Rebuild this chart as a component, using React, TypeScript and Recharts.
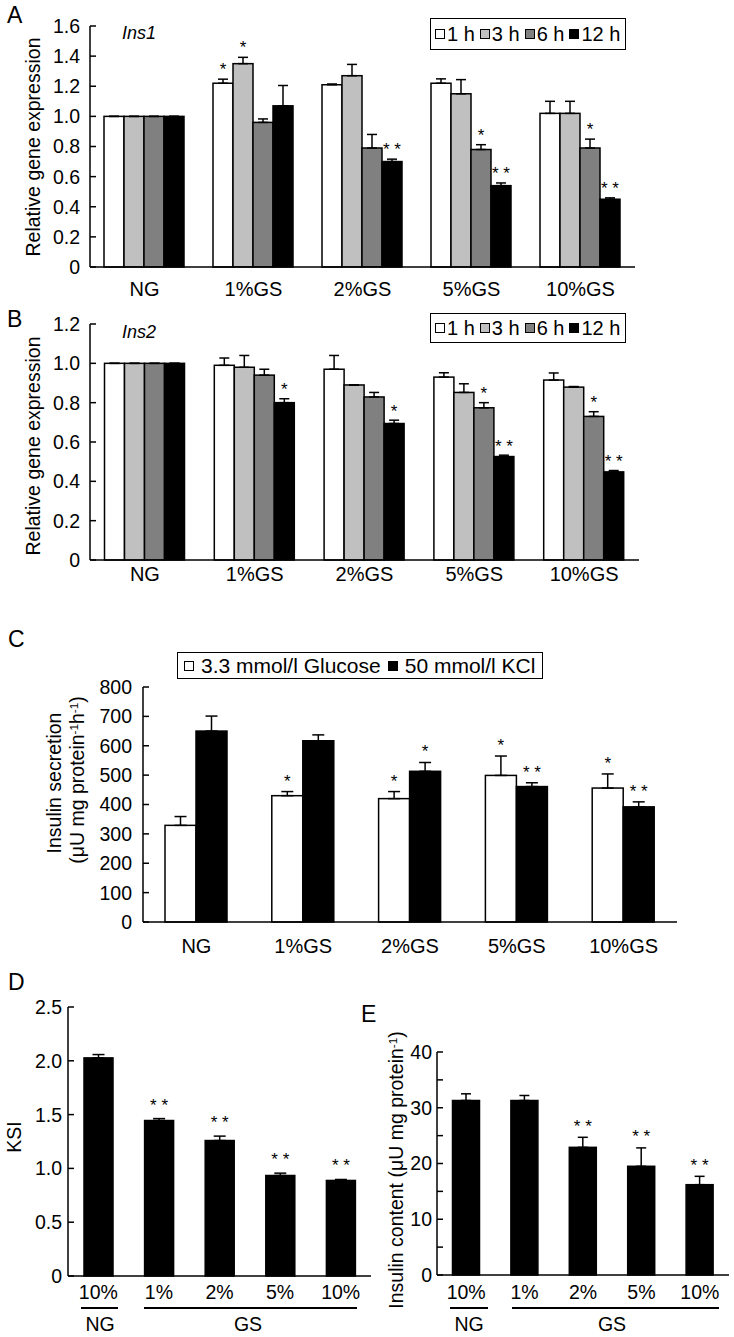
import React from 'react';
import { BarChart, Bar, XAxis, YAxis, ErrorBar, Legend } from 'recharts';

const FONT = '"Liberation Sans", Arial, Helvetica, sans-serif';

// categories / tick labels
const gsGroups = ['NG', '1%GS', '2%GS', '5%GS', '10%GS'];
const doseLabels = ['10%', '1%', '2%', '5%', '10%'];
const hourNames = ['1 h', '3 h', '6 h', '12 h'];
const hourFills = ['#ffffff', '#c0c0c0', '#808080', '#000000'];
const stimNames = ['3.3 mmol/l Glucose', '50 mmol/l KCl'];

// A: Ins1 relative expression
const ins1H1 = [1.0, 1.22, 1.21, 1.22, 1.02];
const ins1H3 = [1.0, 1.35, 1.27, 1.15, 1.02];
const ins1H6 = [1.0, 0.96, 0.79, 0.78, 0.79];
const ins1H12 = [1.0, 1.07, 0.7, 0.54, 0.45];
const ins1H1Err = [0, 0.027, 0.005, 0.029, 0.08];
const ins1H3Err = [0, 0.042, 0.075, 0.094, 0.08];
const ins1H6Err = [0, 0.023, 0.09, 0.032, 0.059];
const ins1H12Err = [0, 0.135, 0.016, 0.018, 0.009];
const ins1H1Sig = ['', '*', '', '', ''];
const ins1H3Sig = ['', '*', '', '', ''];
const ins1H6Sig = ['', '', '', '*', '*'];
const ins1H12Sig = ['', '', '**', '**', '**'];
const ticksA = [0, 0.2, 0.4, 0.6, 0.8, 1.0, 1.2, 1.4, 1.6];

// B: Ins2 relative expression
const ins2H1 = [1.0, 0.99, 0.97, 0.93, 0.915];
const ins2H3 = [1.0, 0.98, 0.89, 0.852, 0.879];
const ins2H6 = [1.0, 0.94, 0.829, 0.774, 0.73];
const ins2H12 = [1.0, 0.8, 0.694, 0.526, 0.448];
const ins2H1Err = [0, 0.037, 0.07, 0.022, 0.036];
const ins2H3Err = [0, 0.06, 0, 0.044, 0.003];
const ins2H6Err = [0, 0.03, 0.023, 0.026, 0.024];
const ins2H12Err = [0, 0.02, 0.017, 0.007, 0.007];
const ins2H1Sig = ['', '', '', '', ''];
const ins2H3Sig = ['', '', '', '', ''];
const ins2H6Sig = ['', '', '', '*', '*'];
const ins2H12Sig = ['', '*', '*', '**', '**'];
const ticksB = [0, 0.2, 0.4, 0.6, 0.8, 1.0, 1.2];

// C: insulin secretion
const glucose = [329, 430, 420, 499, 456];
const glucoseErr = [30, 14, 24, 66, 48];
const glucoseSig = ['', '*', '*', '*', '*'];
const kcl = [650, 617, 513, 461, 392];
const kclErr = [51, 20, 30, 13, 17];
const kclSig = ['', '', '*', '**', '**'];
const ticksC = [0, 100, 200, 300, 400, 500, 600, 700, 800];

// D: KSI
const ksi = [2.027, 1.445, 1.259, 0.934, 0.888];
const ksiErr = [0.031, 0.018, 0.041, 0.022, 0.009];
const ksiSig = ['', '**', '**', '**', '**'];
const ticksD = [0, 0.5, 1.0, 1.5, 2.0, 2.5];

// E: insulin content
const content = [31.3, 31.3, 22.9, 19.5, 16.2];
const contentErr = [1.2, 0.9, 1.8, 3.3, 1.5];
const contentSig = ['', '', '**', '**', '**'];
const ticksE = [0, 5, 10, 15, 20, 25, 30, 35, 40];

type Series = { name: string; fill: string; values: number[]; errors: number[]; sig: string[] };

const toRows = (cats: string[], series: Series[]) =>
  cats.map((c, i) => {
    const row: Record<string, any> = { cat: c };
    series.forEach((s, k) => {
      row['v' + k] = s.values[i];
      row['e' + k] = [0, s.errors[i]];
      row['s' + k] = s.sig[i];
    });
    return row;
  });

// bar rect + significance mark above the error bar
const makeShape = (k: number, fill: string, lift: number) => (p: any) => {
  const { x, y, width, height, payload } = p;
  const val = payload['v' + k];
  const sig = payload['s' + k];
  const errTop = y - payload['e' + k][1] * (val ? height / val : 0);
  return (
    <g>
      <rect x={x} y={y} width={width} height={height} fill={fill} stroke="#000" strokeWidth={1.5} />
      {sig ? (
        <text x={x + width / 2} y={errTop - lift} textAnchor="middle" fontSize={17} fontFamily={FONT} fill="#000">
          {sig === '**' ? '* *' : sig}
        </text>
      ) : null}
    </g>
  );
};

const legendBox = (order: string[], h: number, fs: number, gap: number, sqGap: number, pad: number) => (props: any) => {
  const items = order.map((n) => (props.payload || []).find((e: any) => e.value === n)).filter(Boolean);
  return (
    <div
      style={{
        display: 'inline-flex',
        alignItems: 'center',
        height: h,
        boxSizing: 'border-box',
        border: '1.5px solid #000',
        padding: `0 ${pad}px 0 ${pad - 1}px`,
        fontFamily: FONT,
        fontSize: fs,
        whiteSpace: 'nowrap',
        background: '#fff',
        color: '#000',
      }}
    >
      {items.map((e: any, i: number) => (
        <span key={i} style={{ display: 'inline-flex', alignItems: 'center', marginLeft: i ? gap : 0 }}>
          <span
            style={{
              display: 'inline-block',
              width: 8,
              height: 8,
              border: '1.2px solid #000',
              background: e.color,
              marginRight: sqGap,
            }}
          />
          {e.value}
        </span>
      ))}
    </div>
  );
};

type PanelProps = {
  left: number;
  top: number;
  width: number;
  height: number;
  mTop: number;
  mRight: number;
  yWidth: number;
  xHeight: number;
  domain: [number, number];
  ticks: number[];
  fmt: (v: number) => string;
  yMargin: number;
  xMargin: number;
  xFont: number;
  yFont: number;
  cats: string[];
  series: Series[];
  catGap: number;
  errW: number;
  lift: number;
  legend?: { left: number; top: number; h: number; fs: number; gap: number; sqGap: number; pad: number };
};

const Panel = (p: PanelProps) => {
  const rows = toRows(p.cats, p.series);
  const edges = p.cats.map((_, i) => i + 1);
  const ax = { stroke: '#000', strokeWidth: 1.5 };
  const order = p.series.map((s) => s.name);
  return (
    <div style={{ position: 'absolute', left: p.left, top: p.top }}>
      <BarChart
        width={p.width}
        height={p.height}
        data={rows}
        margin={{ top: p.mTop, right: p.mRight, left: 0, bottom: 0 }}
        barGap={0}
        barCategoryGap={p.catGap}
      >
        <XAxis
          dataKey="cat"
          height={p.xHeight}
          axisLine={ax}
          tickLine={false}
          tickSize={0}
          tickMargin={p.xMargin}
          interval={0}
          tick={{ fill: '#000', fontSize: p.xFont, fontFamily: FONT }}
        />
        <XAxis
          xAxisId="edge"
          type="number"
          domain={[0, p.cats.length]}
          ticks={edges}
          mirror
          height={0}
          axisLine={false}
          tick={false}
          tickSize={5}
          tickLine={ax}
        />
        <YAxis
          width={p.yWidth}
          domain={p.domain}
          ticks={p.ticks}
          interval={0}
          allowDecimals
          axisLine={ax}
          tickLine={ax}
          tickSize={-6}
          tickMargin={p.yMargin}
          tickFormatter={p.fmt}
          tick={{ fill: '#000', fontSize: p.yFont, fontFamily: FONT }}
        />
        {p.legend ? (
          <Legend
            layout="horizontal"
            verticalAlign="middle"
            align="center"
            content={legendBox(order, p.legend.h, p.legend.fs, p.legend.gap, p.legend.sqGap, p.legend.pad)}
            wrapperStyle={{ left: p.legend.left, top: p.legend.top, width: 'auto', height: 'auto' }}
          />
        ) : null}
        {p.series.map((s, k) => (
          <Bar
            key={k}
            dataKey={'v' + k}
            name={s.name}
            fill={s.fill}
            stroke="#000"
            isAnimationActive={false}
            shape={makeShape(k, s.fill, p.lift)}
          >
            <ErrorBar dataKey={'e' + k} width={p.errW} stroke="#000" strokeWidth={1.5} isAnimationActive={false} />
          </Bar>
        ))}
      </BarChart>
    </div>
  );
};

const Txt = ({ x, base, size, italic, center, children }: any) => (
  <div
    style={{
      position: 'absolute',
      left: x,
      top: base - 0.8465 * size,
      fontSize: size,
      lineHeight: `${size}px`,
      fontFamily: FONT,
      fontStyle: italic ? 'italic' : 'normal',
      whiteSpace: 'nowrap',
      transform: center ? 'translateX(-50%)' : undefined,
      color: '#000',
    }}
  >
    {children}
  </div>
);

const VLabel = ({ cx, cy, size, children }: any) => (
  <div
    style={{
      position: 'absolute',
      left: cx,
      top: cy,
      transform: 'translate(-50%, -50%) rotate(-90deg)',
      fontSize: size,
      lineHeight: `${size}px`,
      fontFamily: FONT,
      whiteSpace: 'nowrap',
      color: '#000',
    }}
  >
    {children}
  </div>
);

const Rule = ({ x1, x2, y }: any) => (
  <div style={{ position: 'absolute', left: x1, top: y - 0.75, width: x2 - x1, height: 1.5, background: '#000' }} />
);

const sup = (t: string) => <sup style={{ fontSize: '0.6em', lineHeight: 0, verticalAlign: '0.55em' }}>{t}</sup>;

const dec1 = (v: number) => (v === 0 ? '0' : v.toFixed(1));

const hourSeries = (vals: number[][], errs: number[][], sigs: string[][]): Series[] =>
  hourNames.map((n, k) => ({ name: n, fill: hourFills[k], values: vals[k], errors: errs[k], sig: sigs[k] }));

export default function App() {
  const seriesA = hourSeries(
    [ins1H1, ins1H3, ins1H6, ins1H12],
    [ins1H1Err, ins1H3Err, ins1H6Err, ins1H12Err],
    [ins1H1Sig, ins1H3Sig, ins1H6Sig, ins1H12Sig]
  );
  const seriesB = hourSeries(
    [ins2H1, ins2H3, ins2H6, ins2H12],
    [ins2H1Err, ins2H3Err, ins2H6Err, ins2H12Err],
    [ins2H1Sig, ins2H3Sig, ins2H6Sig, ins2H12Sig]
  );
  const seriesC: Series[] = [
    { name: stimNames[0], fill: '#ffffff', values: glucose, errors: glucoseErr, sig: glucoseSig },
    { name: stimNames[1], fill: '#000000', values: kcl, errors: kclErr, sig: kclSig },
  ];
  const seriesD: Series[] = [{ name: 'KSI', fill: '#000000', values: ksi, errors: ksiErr, sig: ksiSig }];
  const seriesE: Series[] = [{ name: 'Insulin content', fill: '#000000', values: content, errors: contentErr, sig: contentSig }];

  return (
    <div style={{ position: 'absolute', left: 0, top: 0, width: 734, height: 1337, background: '#fff', overflow: 'hidden' }}>
      <Panel
        left={0} top={0} width={660} height={305} mTop={26} mRight={25} yWidth={90} xHeight={38}
        domain={[0, 1.6]} ticks={ticksA} fmt={dec1} yMargin={16} xMargin={15} xFont={20} yFont={19.5}
        cats={gsGroups} series={seriesA} catGap={14} errW={5} lift={4}
        legend={{ left: 430, top: 18, h: 32, fs: 20, gap: 5, sqGap: 2, pad: 5 }}
      />
      <Panel
        left={0} top={300} width={664} height={300} mTop={24} mRight={25} yWidth={90} xHeight={40}
        domain={[0, 1.2]} ticks={ticksB} fmt={dec1} yMargin={16} xMargin={7} xFont={20} yFont={19.5}
        cats={gsGroups} series={seriesB} catGap={14.5} errW={5} lift={3.5}
        legend={{ left: 430, top: 13, h: 30, fs: 20, gap: 5, sqGap: 2, pad: 5 }}
      />
      <Panel
        left={0} top={600} width={700} height={360} mTop={87} mRight={23} yWidth={143} xHeight={38}
        domain={[0, 800]} ticks={ticksC} fmt={(v) => String(v)} yMargin={17} xMargin={17} xFont={20} yFont={19.5}
        cats={gsGroups} series={seriesC} catGap={22} errW={6} lift={5}
        legend={{ left: 177, top: 52, h: 27, fs: 21, gap: 7, sqGap: 7, pad: 7 }}
      />
      <Panel
        left={0} top={990} width={371} height={340} mTop={17} mRight={0} yWidth={68} xHeight={54}
        domain={[0, 2.5]} ticks={ticksD} fmt={dec1} yMargin={12} xMargin={9} xFont={19.5} yFont={19.5}
        cats={doseLabels} series={seriesD} catGap={16} errW={6} lift={8}
      />
      <Panel
        left={360} top={990} width={374} height={340} mTop={62} mRight={5} yWidth={77} xHeight={55}
        domain={[0, 40]} ticks={ticksE} fmt={(v) => (v % 10 === 0 ? String(v) : '')} yMargin={11} xMargin={10} xFont={19.5} yFont={19.5}
        cats={doseLabels} series={seriesE} catGap={15.5} errW={5} lift={5.5}
      />

      <Txt x={7} base={23} size={23}>A</Txt>
      <Txt x={122} base={39} size={18} italic>Ins1</Txt>
      <VLabel cx={34} cy={147} size={19.5}>Relative gene expression</VLabel>

      <Txt x={7} base={327} size={23}>B</Txt>
      <Txt x={122} base={338} size={18} italic>Ins2</Txt>
      <VLabel cx={34} cy={446} size={19.5}>Relative gene expression</VLabel>

      <Txt x={8} base={647} size={23}>C</Txt>
      <VLabel cx={55} cy={783} size={19.5}>Insulin secretion</VLabel>
      <VLabel cx={78} cy={780} size={19.5}>(μU mg protein{sup('-1')}h{sup('-1')})</VLabel>

      <Txt x={8} base={990} size={23}>D</Txt>
      <VLabel cx={15} cy={1137} size={19.5}>KSI</VLabel>
      <Rule x1={81} x2={118} y={1308} />
      <Rule x1={144} x2={357} y={1308} />
      <Txt x={100} base={1332} size={19.5} center>NG</Txt>
      <Txt x={248} base={1332} size={19.5} center>GS</Txt>

      <Txt x={361} base={1022} size={23}>E</Txt>
      <VLabel cx={397} cy={1170} size={19.5}>Insulin content (μU mg protein{sup('-1')})</VLabel>
      <Rule x1={450} x2={488} y={1308} />
      <Rule x1={512} x2={719} y={1308} />
      <Txt x={469} base={1332} size={19.5} center>NG</Txt>
      <Txt x={612} base={1332} size={19.5} center>GS</Txt>
    </div>
  );
}
